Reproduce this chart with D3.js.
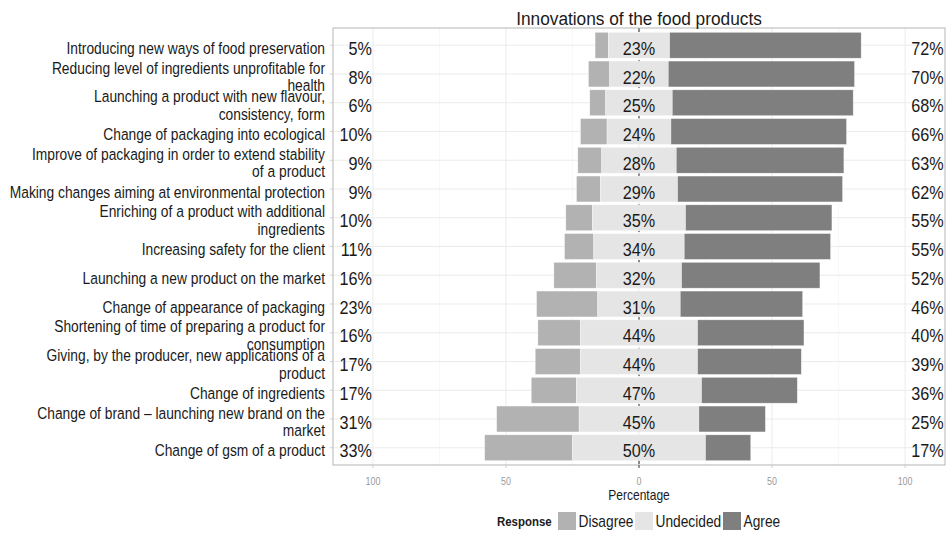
<!DOCTYPE html>
<html>
<head>
<meta charset="utf-8">
<script src="https://cdn.jsdelivr.net/npm/d3@7"></script>
<style>
  html, body { margin: 0; padding: 0; background: #fff; }
  svg { display: block; font-family: "Liberation Sans", Arial, sans-serif; }
</style>
</head>
<body>
<svg id="chart" width="948" height="541"></svg>
<script>
// ---- data ----
const items = [
  "Introducing new ways of food preservation",
  "Reducing level of ingredients unprofitable for\nhealth",
  "Launching a product with new flavour,\nconsistency, form",
  "Change of packaging into ecological",
  "Improve of packaging in order to extend stability\nof a product",
  "Making changes aiming at environmental protection",
  "Enriching of a product with additional\ningredients",
  "Increasing safety for the client",
  "Launching a new product on the market",
  "Change of appearance of packaging",
  "Shortening of time of preparing a product for\nconsumption",
  "Giving, by the producer, new applications of a\nproduct",
  "Change of ingredients",
  "Change of brand – launching new brand on the\nmarket",
  "Change of gsm of a product"
];
const disagree  = [5, 8, 6, 10, 9, 9, 10, 11, 16, 23, 16, 17, 17, 31, 33];
const undecided = [23, 22, 25, 24, 28, 29, 35, 34, 32, 31, 44, 44, 47, 45, 50];
const agree     = [72, 70, 68, 66, 63, 62, 55, 55, 52, 46, 40, 39, 36, 25, 17];
const responses = ["Disagree", "Undecided", "Agree"];
const tickValues = [-100, -50, 0, 50, 100];
const minorTicks = [-75, -25, 25, 75];
const title = "Innovations of the food products";
const xTitle = "Percentage";
const legendTitle = "Response";

// ---- layout ----
const svg = d3.select("#chart");
const panel = { left: 333, right: 945, top: 28, bottom: 465 };
const colors = { Disagree: "#b2b2b2", Undecided: "#e5e5e5", Agree: "#7f7f7f" };

const x = d3.scaleLinear().domain([-115, 115]).range([panel.left, panel.right]);
const y = d3.scalePoint().domain(d3.range(items.length)).range([panel.top, panel.bottom]).padding(0.6);
const step = y.step();
const barH = step * 0.9;

function ctext(g, str, px, py, opts) {
  const t = g.append("text")
    .attr("transform", `translate(${px},${py}) scale(${opts.sx || 1},1)`)
    .attr("text-anchor", opts.anchor || "start")
    .attr("font-size", opts.size)
    .attr("fill", opts.fill || "#1a1a1a")
    .text(str);
  if (opts.weight) t.attr("font-weight", opts.weight);
  return t;
}

// grid
const grid = svg.append("g");
grid.selectAll("line.minor").data(minorTicks).join("line")
  .attr("x1", d => x(d)).attr("x2", d => x(d))
  .attr("y1", panel.top).attr("y2", panel.bottom)
  .attr("stroke", "#f2f2f2").attr("stroke-width", 0.6);
grid.selectAll("line.major").data(tickValues).join("line")
  .attr("x1", d => x(d)).attr("x2", d => x(d))
  .attr("y1", panel.top).attr("y2", panel.bottom)
  .attr("stroke", "#ebebeb").attr("stroke-width", 1);
grid.selectAll("line.h").data(d3.range(items.length)).join("line")
  .attr("x1", panel.left).attr("x2", panel.right)
  .attr("y1", d => y(d)).attr("y2", d => y(d))
  .attr("stroke", "#ebebeb").attr("stroke-width", 1);

// zero dashed line
svg.append("line")
  .attr("x1", x(0)).attr("x2", x(0))
  .attr("y1", panel.top).attr("y2", panel.bottom)
  .attr("stroke", "#222").attr("stroke-width", 1)
  .attr("stroke-dasharray", "4,4");

// bars
const rows = items.map((name, i) => ({ i, d: disagree[i], u: undecided[i], a: agree[i] }));
const bars = svg.append("g");
rows.forEach(r => {
  const segs = [
    { key: "Disagree", x0: -r.u / 2 - r.d, x1: -r.u / 2 },
    { key: "Undecided", x0: -r.u / 2, x1: r.u / 2 },
    { key: "Agree", x0: r.u / 2, x1: r.u / 2 + r.a }
  ];
  bars.selectAll(null).data(segs).join("rect")
    .attr("x", s => x(s.x0))
    .attr("width", s => x(s.x1) - x(s.x0))
    .attr("y", y(r.i) - barH / 2)
    .attr("height", barH)
    .attr("fill", s => colors[s.key])
    .attr("stroke", "#ffffff").attr("stroke-opacity", 0.6).attr("stroke-width", 0.6);
});

// panel border
svg.append("rect")
  .attr("x", panel.left).attr("y", panel.top)
  .attr("width", panel.right - panel.left).attr("height", panel.bottom - panel.top)
  .attr("fill", "none").attr("stroke", "#b5b5b5").attr("stroke-width", 1);

// y ticks
svg.append("g").selectAll("line").data(d3.range(items.length)).join("line")
  .attr("x1", panel.left - 3).attr("x2", panel.left)
  .attr("y1", d => y(d)).attr("y2", d => y(d))
  .attr("stroke", "#cfcfcf");

// percentage labels
const labG = svg.append("g");
rows.forEach(r => {
  const yy = y(r.i) + 9.5;
  ctext(labG, r.d + "%", x(-100) - 1, yy, { size: 18, sx: 0.9, anchor: "end" });
  ctext(labG, r.u + "%", x(0), yy, { size: 18, sx: 0.9, anchor: "middle" });
  ctext(labG, r.a + "%", x(114.5), yy, { size: 18, sx: 0.9, anchor: "end" });
});

// category labels
const catG = svg.append("g");
items.forEach((name, i) => {
  const lines = name.split("\n");
  const rc = y(i);
  if (lines.length === 1) {
    ctext(catG, lines[0], 325, rc + 8.5, { size: 16.5, sx: 0.837, anchor: "end" });
  } else {
    ctext(catG, lines[0], 325, rc - 0.5, { size: 16.5, sx: 0.837, anchor: "end" });
    ctext(catG, lines[1], 325, rc + 17, { size: 16.5, sx: 0.837, anchor: "end" });
  }
});

// x axis
const axG = svg.append("g");
axG.selectAll("line").data(tickValues).join("line")
  .attr("x1", d => x(d)).attr("x2", d => x(d))
  .attr("y1", panel.bottom).attr("y2", panel.bottom + 3)
  .attr("stroke", d => d === 0 ? "#333" : "#cfcfcf");
tickValues.forEach(v => {
  ctext(axG, String(Math.abs(v)), x(v), 485, { size: 10.5, sx: 0.85, anchor: "middle", fill: "#9a9a9a" });
});
ctext(svg, xTitle, x(0), 500, { size: 14, sx: 0.86, anchor: "middle", fill: "#1a1a1a" });

// title
ctext(svg, title, x(0), 25, { size: 18, sx: 0.96, anchor: "middle" });

// legend
const leg = svg.append("g");
ctext(leg, legendTitle, 497, 526, { size: 13, sx: 0.88, anchor: "start", weight: "bold" });
const legItems = [
  { key: "Disagree", bx: 558 },
  { key: "Undecided", bx: 635 },
  { key: "Agree", bx: 723 }
];
legItems.forEach((d, k) => {
  leg.append("rect").attr("x", d.bx).attr("y", 512).attr("width", 18).attr("height", 18)
    .attr("fill", colors[responses[k]]);
  ctext(leg, responses[k], d.bx + 20.5, 527, { size: 16, sx: 0.86, anchor: "start" });
});
</script>
</body>
</html>
